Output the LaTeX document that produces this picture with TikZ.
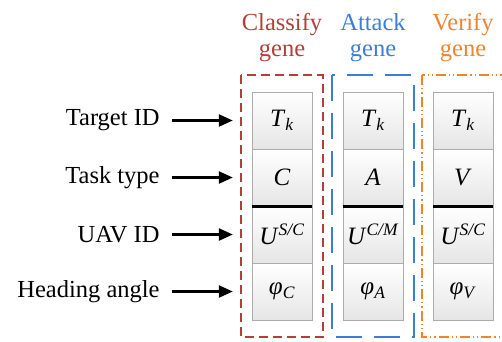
\documentclass[tikz,border=0pt]{standalone}
\usepackage{fontspec}
\setmainfont{Liberation Serif}
\usetikzlibrary{arrows.meta,fit}
\definecolor{cred}{RGB}{176,64,58}
\definecolor{cblue}{RGB}{62,125,214}
\definecolor{corange}{RGB}{240,132,44}
\tikzset{
  cell/.style={draw=gray!65, top color=white, bottom color=gray!20, minimum width=60pt, minimum height=57pt, inner sep=0pt},
  val/.style={font=\fontsize{25}{25}\selectfont, inner sep=0pt, text=black},
  lab/.style={anchor=east, inner sep=0pt, font=\fontsize{24.5}{26}\selectfont},
  ttl/.style={anchor=base, inner sep=0pt, font=\fontsize{24.5}{26}\selectfont},
  arr/.style={color=black, line width=2.4pt, -{Triangle[length=14pt,width=12pt]}},
  sep/.style={color=black, line width=2.6pt},
  grp/.style={inner xsep=10.5pt, inner ysep=16.5pt},
  gline/.style={line width=1.6pt}
}
\begin{document}
\begin{tikzpicture}[x=1pt,y=-1pt]
\useasboundingbox (0,0) rectangle (502,341);
% cells
\foreach \c/\x in {1/282,2/373,3/463}{
  \node[cell] (c\c r1) at (\x,120.5) {};
  \node[cell] (c\c r2) at (\x,177.5) {};
  \node[cell] (c\c r3) at (\x,234.5) {};
  \node[cell] (c\c r4) at (\x,291.5) {};
}
\node[val] (v11) at (c1r1) {\textit{T}\textsubscript{\textit{k}}};
\node[val] (v21) at (c2r1) {\textit{T}\textsubscript{\textit{k}}};
\node[val] (v31) at (c3r1) {\textit{T}\textsubscript{\textit{k}}};
\node[val] (v12) at (c1r2) {\textit{C}};
\node[val] (v22) at (c2r2) {\textit{A}};
\node[val] (v32) at (c3r2) {\textit{V}};
\node[val] (v13) at (c1r3) {\textit{U}\textsuperscript{\textit{S/C}}};
\node[val] (v23) at (c2r3) {\textit{U}\textsuperscript{\textit{C/M}}};
\node[val] (v33) at (c3r3) {\textit{U}\textsuperscript{\textit{S/C}}};
\node[val] (v14) at (c1r4) {\textit{φ}\textsubscript{\textit{C}}};
\node[val] (v24) at (c2r4) {\textit{φ}\textsubscript{\textit{A}}};
\node[val] (v34) at (c3r4) {\textit{φ}\textsubscript{\textit{V}}};
\foreach \c in {1,2,3}{
  \draw[sep] (c\c r2.south west) -- (c\c r2.south east);
}
% group boxes
\node[grp, fit=(c1r1)(c1r4)] (g1) {};
\node[grp, fit=(c2r1)(c2r4)] (g2) {};
\node[grp, fit=(c3r1)(c3r4)] (g3) {};
\draw[gline, color=cred, dash pattern=on 9pt off 5pt] (g1.north west) rectangle (g1.south east);
\draw[gline, color=cblue, dash pattern=on 26pt off 12pt] (g2.north west) rectangle (g2.south east);
\draw[gline, color=corange, dash pattern=on 10pt off 3pt on 1.2pt off 3pt on 1.2pt off 3pt] (g3.north west) rectangle (g3.south east);
% titles
\node[ttl, text=cred] (t1a) at (282,30) {Classify};
\node[ttl, text=cred] (t1b) at (282,56) {gene};
\node[ttl, text=cblue] (t2a) at (373,30) {Attack};
\node[ttl, text=cblue] (t2b) at (373,56) {gene};
\node[ttl, text=corange] (t3a) at (463,30) {Verify};
\node[ttl, text=corange] (t3b) at (463,56) {gene};
% labels and arrows
\node[lab] (l1) at ([xshift=-92pt]c1r1.west) {Target ID};
\node[lab] (l2) at ([xshift=-92pt]c1r2.west) {Task type};
\node[lab] (l3) at ([xshift=-92pt]c1r3.west) {UAV ID};
\node[lab] (l4) at ([xshift=-92pt]c1r4.west) {Heading angle};
\foreach \i in {1,2,3,4}{
  \draw[arr] ([xshift=12pt]l\i.east) -- ([xshift=-19pt]c1r\i.west);
}
\end{tikzpicture}
\end{document}
